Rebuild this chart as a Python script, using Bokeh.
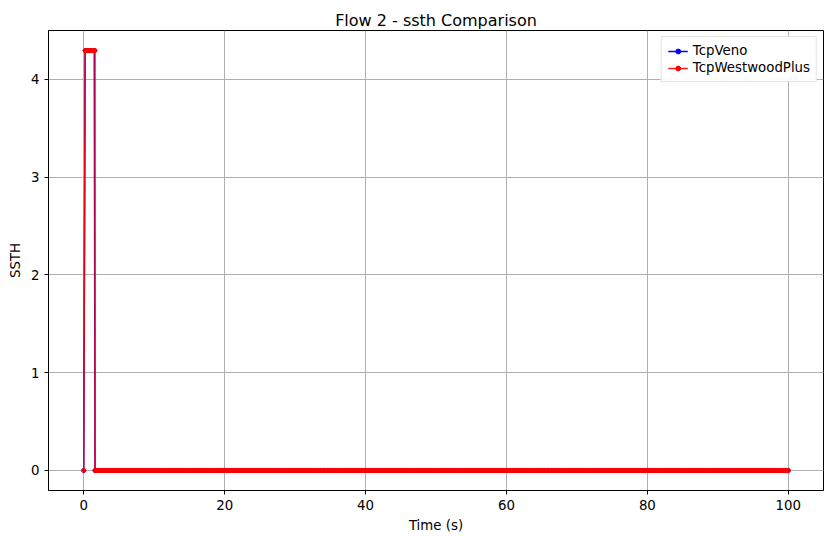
import numpy as np
from bokeh.plotting import figure
from bokeh.models import FixedTicker, Label, Range1d, Legend, LegendItem
from bokeh.embed import file_html
from bokeh.resources import INLINE

# time samples (s) and ssthresh values (bytes)
veno_time = [0.0, 0.2, 0.4, 0.6, 0.8, 1.0, 1.2, 1.4, 1.5]
veno_ssth = [0, 4294967295, 4294967295, 4294967295, 4294967295, 4294967295, 4294967295, 4294967295, 4294967295]
west_time = [0.0, 0.2, 0.4, 0.6, 0.8, 1.0, 1.2, 1.4, 1.6]
west_ssth = [0, 4294967295, 4294967295, 4294967295, 4294967295, 4294967295, 4294967295, 4294967295, 4294967295]
# steady state after the first loss: ssthresh stays a few kB
tail_time = list(np.round(np.arange(1.6, 100.01, 0.2), 1))
veno_tail = [2144] * len(tail_time)
west_tail = [2680] * len(tail_time)

FONT = "DejaVu Sans"

p = figure(width=817, height=531, output_backend="svg", toolbar_location=None,
           x_range=Range1d(-5, 105), y_range=Range1d(-0.205e9, 4.5e9),
           title="Flow 2 - ssth Comparison", x_axis_label="Time (s)", y_axis_label="SSTH",
           min_border_left=48, min_border_right=10, min_border_top=30, min_border_bottom=46)
p.frame_width = 775
p.frame_height = 460
p.title.align = "center"
p.title.text_font = FONT
p.title.text_font_size = "12pt"
p.title.text_font_style = "normal"
p.title.text_color = "black"
p.title.standoff = 2
for ax in (p.xaxis, p.yaxis):
    ax.axis_label_text_font = FONT
    ax.axis_label_text_font_style = "normal"
    ax.axis_label_text_font_size = "10pt"
    ax.axis_label_text_color = "black"
    ax.major_label_text_font = FONT
    ax.major_label_text_font_size = "10pt"
    ax.major_label_text_color = "black"
    ax.minor_tick_line_color = None
    ax.major_tick_out = 4
    ax.major_tick_in = 0
    ax.axis_line_color = "black"
    ax.major_tick_line_color = "black"
p.xaxis.ticker = FixedTicker(ticks=[0, 20, 40, 60, 80, 100])
p.yaxis.ticker = FixedTicker(ticks=[0, 1e9, 2e9, 3e9, 4e9])
p.yaxis.major_label_overrides = {0: "0", 1e9: "1", 2e9: "2", 3e9: "3", 4e9: "4"}
p.grid.grid_line_color = "#b0b0b0"
p.grid.grid_line_alpha = 1.0
p.outline_line_color = "black"

vt = veno_time + tail_time
vs = veno_ssth + veno_tail
wt = west_time + tail_time
ws = west_ssth + west_tail
r1 = p.line(vt, vs, line_color="blue", line_width=1.5)
m1 = p.scatter(vt, vs, size=4, color="blue")
r2 = p.line(wt, ws, line_color="red", line_width=1.5, line_alpha=0.9)
m2 = p.scatter(wt, ws, size=4, color="red")

legend = Legend(items=[LegendItem(label="TcpVeno", renderers=[r1, m1]),
                       LegendItem(label="TcpWestwoodPlus", renderers=[r2, m2])],
                location="top_right", label_text_font=FONT, label_text_font_size="10pt",
                label_text_color="black",
                border_line_color="#cccccc", glyph_height=12, label_height=12,
                spacing=2, padding=6, margin=6)
p.add_layout(legend)

p.add_layout(Label(x=-5, y=4.5e9, text="1e9", text_font=FONT, text_font_size="10pt",
                   text_color="black", y_offset=3, text_baseline="bottom", level="overlay"))

open("out.html", "w").write(file_html(p, INLINE))
